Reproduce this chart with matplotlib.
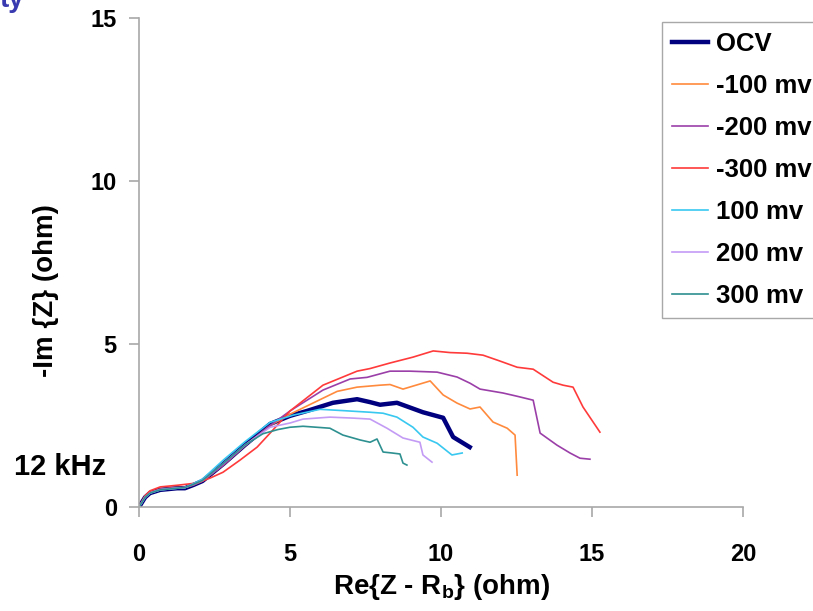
import matplotlib.pyplot as plt

plt.rcParams['font.family'] = ['Liberation Sans', 'DejaVu Sans']
plt.rcParams['font.weight'] = 'bold'
plt.rcParams['mathtext.fontset'] = 'custom'
plt.rcParams['mathtext.rm'] = 'Liberation Sans:bold'
plt.rcParams['mathtext.it'] = 'Liberation Sans:bold'
plt.rcParams['mathtext.bf'] = 'Liberation Sans:bold'

# Nyquist data: Re{Z - Rb} (ohm) vs -Im{Z} (ohm)
labels = ['OCV', '-100 mv', '-200 mv', '-300 mv', '100 mv', '200 mv', '300 mv']

ocv_x = [0, 0.2, 0.36, 0.7, 1.26, 1.52, 1.8, 2.1, 2.8, 3.5, 4.34, 5.0, 5.56, 6.42,
         7.22, 7.65, 7.98, 8.54, 9.4, 10.07, 10.4, 10.95]
ocv_y = [0, 0.3, 0.43, 0.53, 0.58, 0.58, 0.68, 0.8, 1.33, 1.9, 2.55, 2.8, 2.95, 3.2,
         3.31, 3.22, 3.14, 3.2, 2.91, 2.74, 2.15, 1.84]

m100_x = [0, 0.2, 0.36, 0.7, 1.26, 1.52, 1.8, 2.1, 2.8, 3.5, 4.34, 5.0, 6.09, 6.56,
          7.22, 7.98, 8.31, 8.74, 9.64, 10.07, 10.53, 10.96, 11.29, 11.72, 12.19,
          12.45, 12.52]
m100_y = [0, 0.32, 0.45, 0.55, 0.6, 0.6, 0.68, 0.8, 1.3, 1.88, 2.5, 2.85, 3.34, 3.55,
          3.68, 3.74, 3.76, 3.62, 3.87, 3.44, 3.19, 3.01, 3.07, 2.61, 2.42, 2.21, 0.98]

m200_x = [0, 0.2, 0.36, 0.7, 1.26, 1.52, 1.8, 2.1, 2.8, 3.5, 4.34, 5.0, 6.09, 6.99,
          7.55, 8.31, 8.97, 9.87, 10.53, 10.96, 11.29, 12.05, 12.52, 13.05, 13.28,
          13.84, 14.27, 14.6, 14.93]
m200_y = [0, 0.3, 0.44, 0.55, 0.6, 0.6, 0.68, 0.8, 1.3, 1.88, 2.5, 2.95, 3.59, 3.93,
          3.98, 4.17, 4.17, 4.14, 3.99, 3.8, 3.62, 3.5, 3.4, 3.28, 2.27, 1.9, 1.66,
          1.5, 1.47]

m300_x = [0, 0.2, 0.36, 0.7, 1.26, 1.92, 2.35, 2.78, 3.34, 3.91, 4.34, 5.0, 6.09,
          7.22, 7.65, 8.31, 9.07, 9.74, 10.3, 10.86, 11.39, 11.95, 12.52, 13.05,
          13.71, 14.04, 14.37, 14.7, 15.26]
m300_y = [0, 0.35, 0.5, 0.62, 0.67, 0.74, 0.89, 1.07, 1.44, 1.84, 2.27, 2.95, 3.74,
          4.17, 4.25, 4.42, 4.6, 4.79, 4.74, 4.72, 4.66, 4.48, 4.29, 4.23, 3.83,
          3.74, 3.68, 3.07, 2.3]

p100_x = [0, 0.2, 0.36, 0.7, 1.26, 1.52, 1.8, 2.1, 2.8, 3.5, 4.34, 5.1, 5.99, 6.75,
          7.65, 8.08, 8.54, 9.07, 9.4, 9.87, 10.36, 10.7]
p100_y = [0, 0.3, 0.43, 0.53, 0.58, 0.6, 0.72, 0.86, 1.45, 2.0, 2.6, 2.82, 3.0, 2.96,
          2.91, 2.88, 2.76, 2.45, 2.15, 1.96, 1.6, 1.66]

p200_x = [0, 0.2, 0.36, 0.7, 1.26, 1.52, 1.8, 2.1, 2.8, 3.5, 4.34, 5.0, 5.43, 6.32,
          7.09, 7.65, 8.21, 8.74, 9.3, 9.4, 9.7]
p200_y = [0, 0.3, 0.43, 0.53, 0.58, 0.6, 0.7, 0.82, 1.35, 1.9, 2.45, 2.58, 2.7, 2.76,
          2.73, 2.7, 2.42, 2.12, 1.99, 1.6, 1.38]

p300_x = [0, 0.2, 0.36, 0.7, 1.26, 1.52, 1.8, 2.1, 2.8, 3.5, 4.1, 4.6, 5.0, 5.43,
          6.32, 6.75, 7.32, 7.65, 7.88, 8.08, 8.38, 8.64, 8.74, 8.87]
p300_y = [0, 0.3, 0.43, 0.53, 0.58, 0.6, 0.7, 0.82, 1.35, 1.9, 2.25, 2.38, 2.45, 2.48,
          2.42, 2.21, 2.06, 1.99, 2.09, 1.69, 1.66, 1.63, 1.35, 1.29]

series = [(ocv_x, ocv_y), (m100_x, m100_y), (m200_x, m200_y), (m300_x, m300_y),
          (p100_x, p100_y), (p200_x, p200_y), (p300_x, p300_y)]
colors = ['#00007f', '#ff8a3d', '#9b3fa8', '#ff3a3a', '#38c8f0', '#c39bf5', '#2e9090']
widths = [3.2, 1.2, 1.2, 1.2, 1.2, 1.2, 1.2]

fig = plt.figure(figsize=(8.13, 6.11), dpi=100)
ax = fig.add_axes([0.171, 0.170, 0.743, 0.8005])

for (xs, ys), c, w, lab in zip(series, colors, widths, labels):
    ax.plot(xs, ys, color=c, lw=w, label=lab)

ax.set_xlim(0, 20)
ax.set_ylim(0, 15)
ax.set_xticks([0, 5, 10, 15, 20])
ax.set_yticks([0, 5, 10, 15])
for s in ['top', 'right']:
    ax.spines[s].set_visible(False)
for s in ['left', 'bottom']:
    ax.spines[s].set_color('#a8a8a8')
    ax.spines[s].set_linewidth(1.2)
ax.tick_params(axis='x', direction='out', length=7, width=1.2, color='#a8a8a8',
               labelsize=17, pad=19)
ax.tick_params(axis='y', direction='out', length=7, width=1.2, color='#a8a8a8',
               labelsize=17, pad=9)

ax.set_xlabel('Re{Z - R$_\\mathregular{b}$} (ohm)', fontsize=20, fontweight='bold',
              labelpad=4)
ax.set_ylabel('-Im {Z} (ohm)', fontsize=20, fontweight='bold')
ax.yaxis.set_label_coords(-0.154, 0.442)
ax.yaxis.label.set_verticalalignment('center')

fig.text(14 / 813, 1 - 467 / 611, '12 kHz', fontsize=21, fontweight='bold',
         ha='left', va='center')
fig.text(0.0, 1.0, 'ty', fontsize=20, fontweight='bold', color='#3a3ab0',
         ha='left', va='center')

leg = fig.legend(loc='upper left', bbox_to_anchor=(662 / 813, 1 - 22 / 611),
                 bbox_transform=fig.transFigure, borderaxespad=0,
                 fontsize=18.5, handlelength=1.4, handletextpad=0.3,
                 borderpad=0.4, labelspacing=0.7, fancybox=False,
                 framealpha=1, edgecolor='#a8a8a8')
leg.get_frame().set_linewidth(1.0)

fig.savefig('out.png', dpi=100)
